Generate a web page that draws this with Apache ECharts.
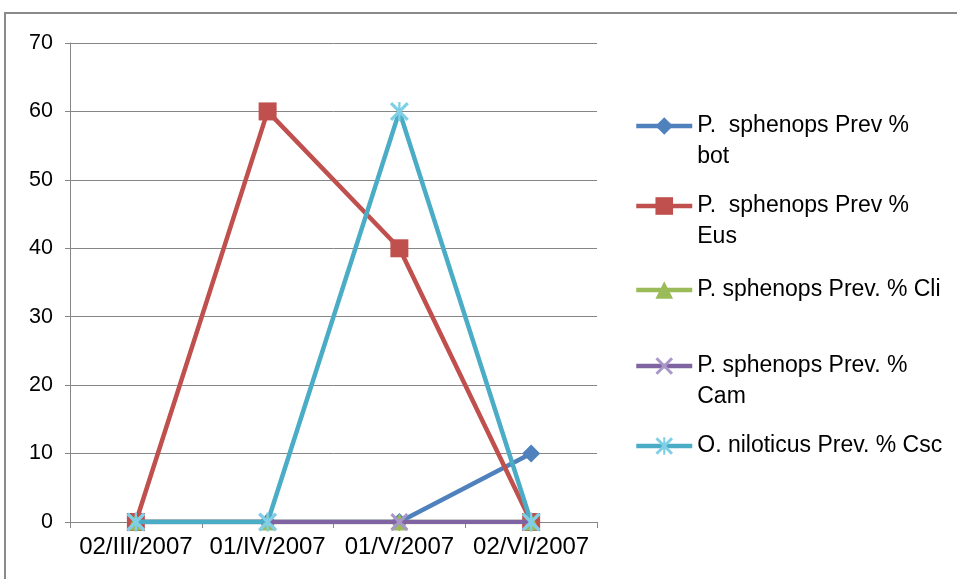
<!DOCTYPE html>
<html><head><meta charset="utf-8">
<script src="https://cdn.jsdelivr.net/npm/echarts@6/dist/echarts.min.js"></script>
<style>html,body{margin:0;padding:0;background:#fff}#c{width:957px;height:579px}</style>
</head><body><div id="c"></div>
<script>
var categories = ['02/III/2007', '01/IV/2007', '01/V/2007', '02/VI/2007'];
var seriesNames = ['P.  sphenops Prev % bot', 'P.  sphenops Prev % Eus', 'P. sphenops Prev. % Cli', 'P. sphenops Prev. % Cam', 'O. niloticus Prev. % Csc'];
var legendLabels = ['P.  sphenops Prev %\nbot', 'P.  sphenops Prev %\nEus', 'P. sphenops Prev. % Cli', 'P. sphenops Prev. %\nCam', 'O. niloticus Prev. % Csc'];
var botValues = [0, 0, 0, 10];
var eusValues = [0, 60, 40, 0];
var cliValues = [0, 0, 0, 0];
var camValues = [0, 0, 0, 0];
var cscValues = [0, 0, 60, 0];
var yTicks = [0, 10, 20, 30, 40, 50, 60, 70];

var FONT = 'Liberation Sans';
var colors = ['#4F81BD', '#C0504D', '#9BBB59', '#8064A2', '#4BACC6'];
var markerColors = ['#4F81BD', '#C0504D', '#9BBB59', '#A897C8', '#7FD0E6'];
var xPath = 'path://M0,1.2 L1.2,0 L10,8.8 L8.8,10 Z M8.8,0 L10,1.2 L1.2,10 L0,8.8 Z';
var starPath = 'path://M0,1.2 L1.2,0 L10,8.8 L8.8,10 Z M8.8,0 L10,1.2 L1.2,10 L0,8.8 Z M4.4,0 L5.6,0 L5.6,10 L4.4,10 Z';
var symbols = ['diamond', 'rect', 'triangle', xPath, starPath];
var symbolSizes = [18, 18, 17, 18, 19];
var dataSets = [botValues, eusValues, cliValues, camValues, cscValues];

var series = dataSets.map(function (d, i) {
  return {
    name: seriesNames[i], type: 'line', data: d,
    symbol: symbols[i], symbolSize: symbolSizes[i], showSymbol: true,
    lineStyle: {color: colors[i], width: 4.5},
    itemStyle: {color: markerColors[i], opacity: 1},
    z: 2 + i
  };
});

var legendCenters = [126, 206, 290, 366, 446];
var LH = 31;
var legends = seriesNames.map(function (n, i) {
  var twoLine = legendLabels[i].indexOf('\n') >= 0;
  var label = twoLine ? '\n' + legendLabels[i] : legendLabels[i];
  return {
    data: [n], orient: 'vertical', left: 634, padding: 0,
    top: twoLine ? legendCenters[i] - 1.5 * LH : legendCenters[i] - LH / 2,
    itemWidth: 56, itemHeight: 22, itemGap: 0,
    formatter: function () { return label; },
    lineStyle: {width: 4.5},
    textStyle: {fontFamily: FONT, fontSize: 23, color: '#000', lineHeight: LH},
    selectedMode: false
  };
});

var chart = echarts.init(document.getElementById('c'));
chart.setOption({
  animation: false,
  color: colors,
  graphic: [{type: 'rect', shape: {x: 5, y: 13, width: 1000, height: 700},
    style: {fill: 'none', stroke: '#8a8a8a', lineWidth: 2}, z: -10}],
  legend: legends,
  grid: {left: 70, top: 43, right: 360, bottom: 57},
  xAxis: {
    type: 'category', data: categories, boundaryGap: true,
    axisLine: {lineStyle: {color: '#868686', width: 1}},
    axisTick: {show: true, length: 6, inside: false, lineStyle: {color: '#868686'}},
    axisLabel: {fontFamily: FONT, fontSize: 24, color: '#000', margin: 13, interval: 0, hideOverlap: false}
  },
  yAxis: {
    type: 'value', min: 0, max: 70, interval: 10,
    axisLine: {show: true, lineStyle: {color: '#868686', width: 1}},
    axisTick: {show: true, length: 5, lineStyle: {color: '#868686'}},
    splitLine: {lineStyle: {color: '#868686', width: 1}},
    axisLabel: {fontFamily: FONT, fontSize: 21.5, color: '#000', margin: 17,
      formatter: function (v) { return yTicks.indexOf(v) >= 0 ? String(v) : ''; }}
  },
  series: series
});
</script></body></html>
